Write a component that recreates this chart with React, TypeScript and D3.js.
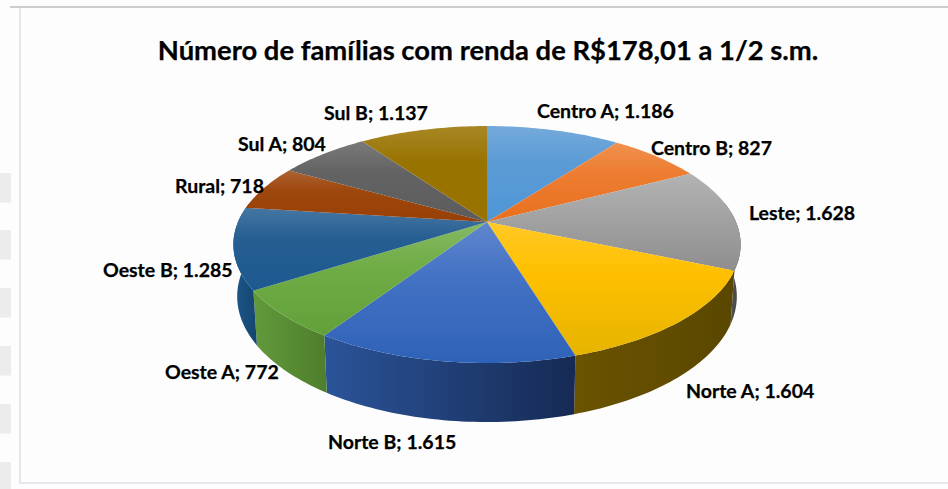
import React from "react";
import * as d3 from "d3";

const categories = ["Centro A", "Centro B", "Leste", "Norte A", "Norte B", "Oeste A", "Oeste B", "Rural", "Sul A", "Sul B"];
const values = [1186, 827, 1628, 1604, 1615, 772, 1285, 718, 804, 1137];
const valueLabels = ["1.186", "827", "1.628", "1.604", "1.615", "772", "1.285", "718", "804", "1.137"];
const topColors = ["#5B9BD5", "#ED7D31", "#A5A5A5", "#FFC000", "#4472C4", "#70AD47", "#255E91", "#9E480E", "#636363", "#997300"];
const bottomColors = ["#4E96D6", "#E8701F", "#8E8E8E", "#E6B400", "#2E62B8", "#62A03A", "#1D5A90", "#983F05", "#5C5C5C", "#997300"];
const wallLeft = ["#3d74a5", "#b05c20", "#5d5d5d", "#6a5300", "#2b5499", "#629a3b", "#1b578c", "#7a380b", "#4a4a4a", "#735600"];
const wallRight = ["#3d74a5", "#b05c20", "#444444", "#5a4700", "#162a54", "#4e7e2c", "#15466f", "#7a380b", "#4a4a4a", "#735600"];
const labelAnchors: [number, number][] = [
  [537, 111], [651, 148], [749, 213], [686, 391], [328, 442], [165, 372], [103, 270], [175, 186], [238, 144], [324, 113],
];
const title = "Número de famílias com renda de R$178,01 a 1/2 s.m.";
const sideBoxes = [173, 230, 288, 346, 404, 462];

const W = 948, H = 489;
const CX = 487, CY = 222;
const A = 249, B = 114.2, K = 0.19;
const SX = 0.985, SY = 1.06, DY = 50.6;
const WALL_FROM = (80 * Math.PI) / 180, WALL_TO = (280 * Math.PI) / 180;

const project = (t: number): [number, number] => {
  const u = Math.sin(t), v = -Math.cos(t), w = 1 - K * v;
  return [CX + (A * u) / w, CY + (B * v) / w];
};
const lower = (t: number): [number, number] => {
  const [x, y] = project(t);
  return [CX + SX * (x - CX), CY + DY + SY * (y - CY)];
};
const samples = (a: number, b: number) => {
  const n = Math.max(2, Math.ceil((b - a) / 0.02));
  return d3.range(n + 1).map((i) => a + ((b - a) * i) / n);
};
const lineGen = d3.line();

export default function App() {
  const arcs = d3.pie<number>().sort(null).value((d) => d)(values);
  const lighten = (c: string) => d3.interpolateRgb(c, "#ffffff")(0.15);
  return (
    <svg width={W} height={H} style={{ position: "absolute", left: 0, top: 0, display: "block" }}>
      <defs>
        {topColors.map((c, i) => (
          <linearGradient key={i} id={`top${i}`} x1="0" y1="0" x2="0" y2="1">
            <stop offset="0" stopColor={lighten(c)} />
            <stop offset="0.38" stopColor={c} />
            <stop offset="1" stopColor={bottomColors[i]} />
          </linearGradient>
        ))}
        {topColors.map((c, i) => (
          <linearGradient key={i} id={`wall${i}`} x1="0" y1="0" x2="1" y2="0">
            <stop offset="0" stopColor={wallLeft[i]} />
            <stop offset="1" stopColor={wallRight[i]} />
          </linearGradient>
        ))}
      </defs>
      <rect width={W} height={H} fill="#fdfdfd" />
      {sideBoxes.map((y) => (
        <rect key={y} x={0} y={y} width={11} height={Math.min(29.5, H - y)} fill="#ececec" />
      ))}
      <rect x={19} y={8} width={2} height={476} fill="#e4e7ec" />
      <rect x={10} y={6} width={938} height={2} fill="#cdcdcd" />
      <rect x={20} y={482} width={928} height={2} fill="#e4e7ec" />
      <text x={488} y={60} textAnchor="middle" fontFamily="Lato, Carlito, sans-serif" fontWeight={700} fontSize={27.4} stroke="#000" strokeWidth={0.25} fill="#000">
        {title}
      </text>
      {arcs.map((a, i) => {
        const s = Math.max(a.startAngle, WALL_FROM), e = Math.min(a.endAngle, WALL_TO);
        if (e <= s) return null;
        const ts = samples(s, e);
        const pts = [...ts.map(project), ...ts.slice().reverse().map(lower)];
        return <path key={i} d={lineGen(pts) + "Z"} fill={`url(#wall${i})`} />;
      })}
      {arcs.map((a, i) => {
        const pts: [number, number][] = [[CX, CY], ...samples(a.startAngle, a.endAngle).map(project)];
        return <path key={i} d={lineGen(pts) + "Z"} fill={`url(#top${i})`} />;
      })}
      {categories.map((c, i) => (
        <text key={c} x={labelAnchors[i][0]} y={labelAnchors[i][1]} dy="0.35em" fontFamily="Lato, Carlito, sans-serif" fontWeight={700} fontSize={19.5} stroke="#000" strokeWidth={0.25} fill="#000">
          {`${c}; ${valueLabels[i]}`}
        </text>
      ))}
    </svg>
  );
}
